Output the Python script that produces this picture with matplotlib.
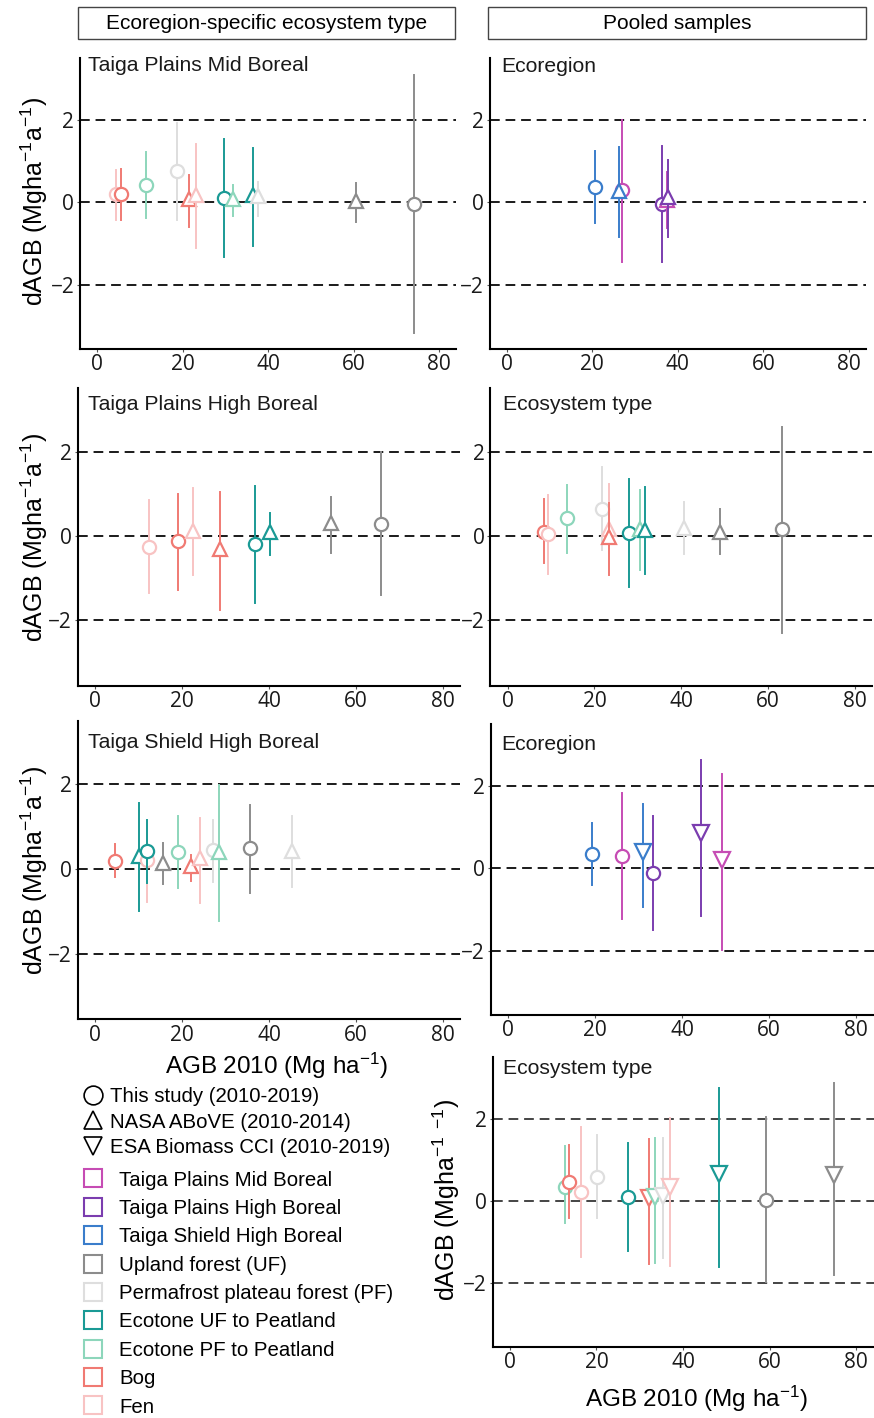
import matplotlib
matplotlib.use('Agg')
import matplotlib.pyplot as plt
from matplotlib.lines import Line2D
from matplotlib.patches import Rectangle

plt.rcParams['font.family'] = ['Liberation Sans', 'DejaVu Sans']
plt.rcParams['mathtext.default'] = 'regular'

# ---------------------------------------------------------------------------
# data
# cat keys: Mid/High/Shield = ecoregions, UF, PF, EUF, EPF, Bog, Fen = ecosystem types
# src keys: this = This study, nasa = NASA ABoVE, esa = ESA Biomass CCI
# ---------------------------------------------------------------------------
# Taiga Plains Mid Boreal
mid_cat = ['Fen', 'Bog', 'EPF', 'PF', 'Bog', 'Fen', 'EUF', 'EPF', 'EUF', 'PF', 'UF', 'UF']
mid_src = ['this', 'this', 'this', 'this', 'nasa', 'nasa', 'this', 'nasa', 'nasa', 'nasa', 'nasa', 'this']
mid_x = [4.5, 5.5, 11.4, 18.6, 21.5, 23.2, 29.6, 31.7, 36.6, 37.7, 60.6, 74.1]
mid_y = [0.20, 0.20, 0.42, 0.77, 0.07, 0.18, 0.11, 0.07, 0.18, 0.14, 0.03, -0.04]
mid_lo = [-0.42, -0.43, -0.39, -0.43, -0.59, -1.12, -1.32, -0.33, -1.07, -0.33, -0.47, -3.18]
mid_hi = [0.78, 0.80, 1.23, 1.92, 0.66, 1.41, 1.53, 0.42, 1.31, 0.48, 0.46, 3.09]

# Pooled by ecoregion (This study vs NASA ABoVE)
ecoA_cat = ['Shield', 'Mid', 'Shield', 'High', 'Mid', 'High']
ecoA_src = ['this', 'this', 'nasa', 'this', 'nasa', 'nasa']
ecoA_x = [20.7, 27.0, 26.3, 36.2, 37.5, 37.8]
ecoA_y = [0.36, 0.30, 0.28, -0.04, 0.05, 0.12]
ecoA_lo = [-0.51, -1.44, -0.83, -1.44, -0.63, -0.83]
ecoA_hi = [1.24, 2.00, 1.35, 1.37, 0.74, 1.03]

# Taiga Plains High Boreal
high_cat = ['Fen', 'Bog', 'Fen', 'Bog', 'EUF', 'EUF', 'UF', 'UF']
high_src = ['this', 'this', 'nasa', 'nasa', 'this', 'nasa', 'nasa', 'this']
high_x = [12.4, 19.0, 22.6, 28.7, 36.8, 40.2, 54.2, 65.7]
high_y = [-0.25, -0.13, 0.13, -0.32, -0.19, 0.10, 0.32, 0.28]
high_lo = [-1.36, -1.28, -0.92, -1.75, -1.58, -0.45, -0.40, -1.40]
high_hi = [0.85, 1.00, 1.13, 1.05, 1.19, 0.54, 0.93, 2.00]

# Pooled by ecosystem type (This study vs NASA ABoVE)
typA_cat = ['Bog', 'Fen', 'EPF', 'PF', 'Fen', 'Bog', 'EUF', 'EPF', 'EUF', 'PF', 'UF', 'UF']
typA_src = ['this', 'this', 'this', 'this', 'nasa', 'nasa', 'this', 'nasa', 'nasa', 'nasa', 'nasa', 'this']
typA_x = [8.4, 9.4, 13.7, 21.8, 23.3, 23.3, 27.9, 30.6, 31.7, 40.6, 48.8, 63.3]
typA_y = [0.10, 0.05, 0.42, 0.63, 0.16, -0.03, 0.06, 0.16, 0.14, 0.20, 0.10, 0.16]
typA_lo = [-0.65, -0.89, -0.41, -0.33, -0.40, -0.92, -1.22, -0.81, -0.90, -0.43, -0.43, -2.29]
typA_hi = [0.87, 0.97, 1.21, 1.64, 1.23, 0.79, 1.35, 1.09, 1.17, 0.81, 0.63, 2.59]

# Taiga Shield High Boreal
shd_cat = ['Bog', 'EUF', 'Fen', 'EUF', 'UF', 'EPF', 'Bog', 'Fen', 'PF', 'EPF', 'UF', 'PF']
shd_src = ['this', 'nasa', 'this', 'this', 'nasa', 'this', 'nasa', 'nasa', 'this', 'nasa', 'this', 'nasa']
shd_x = [4.7, 10.2, 11.9, 12.0, 15.6, 19.0, 22.0, 24.2, 27.2, 28.4, 35.6, 45.3]
shd_y = [0.20, 0.31, 0.21, 0.43, 0.15, 0.41, 0.06, 0.25, 0.45, 0.39, 0.49, 0.43]
shd_lo = [-0.20, -1.00, -0.77, -0.34, -0.35, -0.46, -0.28, -0.80, -0.30, -1.24, -0.56, -0.42]
shd_hi = [0.58, 1.55, 0.90, 1.16, 0.62, 1.25, 0.33, 1.20, 1.16, 1.98, 1.51, 1.24]

# Pooled by ecoregion (This study vs ESA CCI)
ecoB_cat = ['Shield', 'Mid', 'Shield', 'High', 'High', 'Mid']
ecoB_src = ['this', 'this', 'esa', 'this', 'esa', 'esa']
ecoB_x = [19.4, 26.3, 31.1, 33.4, 44.4, 49.1]
ecoB_y = [0.35, 0.30, 0.40, -0.12, 0.85, 0.19]
ecoB_lo = [-0.40, -1.24, -0.93, -1.51, -1.16, -1.98]
ecoB_hi = [1.11, 1.82, 1.56, 1.28, 2.63, 2.28]

# Pooled by ecosystem type (This study vs ESA CCI)
typB_cat = ['EPF', 'Bog', 'Fen', 'PF', 'EUF', 'Bog', 'EPF', 'PF', 'Fen', 'EUF', 'UF', 'UF']
typB_src = ['this', 'this', 'this', 'this', 'this', 'esa', 'esa', 'esa', 'esa', 'esa', 'this', 'esa']
typB_x = [12.8, 13.6, 16.5, 20.2, 27.2, 32.1, 33.6, 35.3, 37.0, 48.3, 59.1, 74.8]
typB_y = [0.35, 0.47, 0.23, 0.59, 0.11, 0.08, 0.11, 0.12, 0.35, 0.67, 0.02, 0.63]
typB_lo = [-0.54, -0.42, -1.36, -0.42, -1.21, -1.54, -1.50, -1.40, -1.59, -1.60, -1.97, -1.80]
typB_hi = [1.33, 1.37, 1.80, 1.61, 1.41, 1.51, 1.53, 1.53, 2.02, 2.75, 2.06, 2.87]

cat_names = {
    'Mid': 'Taiga Plains Mid Boreal',
    'High': 'Taiga Plains High Boreal',
    'Shield': 'Taiga Shield High Boreal',
    'UF': 'Upland forest (UF)',
    'PF': 'Permafrost plateau forest (PF)',
    'EUF': 'Ecotone UF to Peatland',
    'EPF': 'Ecotone PF to Peatland',
    'Bog': 'Bog',
    'Fen': 'Fen',
}
src_names = {
    'this': 'This study (2010-2019)',
    'nasa': 'NASA ABoVE (2010-2014)',
    'esa': 'ESA Biomass CCI (2010-2019)',
}

# ---------------------------------------------------------------------------
# styles
# ---------------------------------------------------------------------------
colors = {
    'Mid': '#C64CB4',
    'High': '#7B3DAF',
    'Shield': '#3A7DCB',
    'UF': '#8C8C8C',
    'PF': '#DEDEDE',
    'EUF': '#1A9A95',
    'EPF': '#8DD6BB',
    'Bog': '#F07A73',
    'Fen': '#F8C3C3',
}
markers = {'this': 'o', 'nasa': '^', 'esa': 'v'}
msizes = {'this': 9.5, 'nasa': 9.5, 'esa': 12}

W, H = 874, 1418
fig = plt.figure(figsize=(W / 100, H / 100), dpi=100)


def add_panel(box, title, title_xy, cat, src, x, y, lo, hi, dash_col='#1a1a1a'):
    left, top, right, bottom = box
    ax = fig.add_axes([left / W, 1 - bottom / H, (right - left) / W, (bottom - top) / H])
    for v in (-2, 0, 2):
        ax.axhline(v, color=dash_col, lw=1.4, ls=(0, (5, 3)), zorder=1)
    for i in range(len(x)):
        c = colors[cat[i]]
        ax.plot([x[i], x[i]], [lo[i], hi[i]], color=c, lw=1.4, zorder=2 + i)
        ax.plot(x[i], y[i], marker=markers[src[i]], ms=msizes[src[i]], mfc='white',
                mec=c, mew=1.6, ls='none', zorder=2 + i)
    ax.set_xlim(-4, 84)
    ax.set_ylim(-3.55, 3.5)
    ax.set_xticks([0, 20, 40, 60, 80])
    ax.set_yticks([-2, 0, 2])
    for s in ('top', 'right'):
        ax.spines[s].set_visible(False)
    for s in ('left', 'bottom'):
        ax.spines[s].set_linewidth(1.5)
    ax.tick_params(length=2, width=0.8, color='#555555', labelsize=15, pad=2,
                   labelcolor='#1a1a1a')
    for lab in ax.get_xticklabels() + ax.get_yticklabels():
        lab.set_family(['Open Sans', 'DejaVu Sans'])
    fig.text(title_xy[0] / W, 1 - title_xy[1] / H, title, fontsize=15.2,
             va='baseline', ha='left', color='#1a1a1a')
    return ax


add_panel((79.9, 57.9, 456.1, 348.7), 'Taiga Plains Mid Boreal', (88, 71),
          mid_cat, mid_src, mid_x, mid_y, mid_lo, mid_hi)
add_panel((489.6, 57.9, 866.2, 348.7), 'Ecoregion', (501.7, 72),
          ecoA_cat, ecoA_src, ecoA_x, ecoA_y, ecoA_lo, ecoA_hi)
add_panel((77.6, 388.4, 460.4, 685.7), 'Taiga Plains High Boreal', (88, 410),
          high_cat, high_src, high_x, high_y, high_lo, high_hi)
add_panel((490.3, 388.4, 872.3, 685.7), 'Ecosystem type', (503, 410),
          typA_cat, typA_src, typA_x, typA_y, typA_lo, typA_hi)
add_panel((77.6, 720.8, 460.4, 1019.3), 'Taiga Shield High Boreal', (88, 748),
          shd_cat, shd_src, shd_x, shd_y, shd_lo, shd_hi)
add_panel((490.5, 724.2, 873.5, 1014.5), 'Ecoregion', (501.7, 750),
          ecoB_cat, ecoB_src, ecoB_x, ecoB_y, ecoB_lo, ecoB_hi)
add_panel((492.5, 1057.5, 873.5, 1346.6), 'Ecosystem type', (503, 1074),
          typB_cat, typB_src, typB_x, typB_y, typB_lo, typB_hi, dash_col='#444444')

# axis labels
ylab = r'dAGB (Mgha$^{-1}$a$^{-1}$)'
for yc in (201, 537, 870):
    fig.text(34 / W, 1 - yc / H, ylab, rotation=90, fontsize=18, ha='center', va='center')
fig.text(446 / W, 1 - 1200 / H, r'dAGB (Mgha$^{-1}$ $^{-1}$)', rotation=90, fontsize=18,
         ha='center', va='center')
xlab = r'AGB 2010 (Mg ha$^{-1}$)'
fig.text(276 / W, 1 - 1066 / H, xlab, fontsize=17.5, ha='center', va='center')
fig.text(696 / W, 1 - 1399 / H, xlab, fontsize=17.5, ha='center', va='center')

# header boxes
for (x0, x1, txt) in ((78, 455, 'Ecoregion-specific ecosystem type'),
                      (488, 866, 'Pooled samples')):
    fig.add_artist(Rectangle((x0 / W, 1 - 39 / H), (x1 - x0) / W, 32 / H,
                             transform=fig.transFigure, fill=False, ec='#444444', lw=1))
    fig.text((x0 + x1) / 2 / W, 1 - 23.5 / H, txt, fontsize=15, ha='center', va='center')

# legends
src_handles = [Line2D([], [], marker=markers[k], ls='none', ms=13.5, mfc='none', mec='black',
                      mew=1.2) for k in ('this', 'nasa', 'esa')]
leg1 = fig.legend(src_handles, [src_names[k] for k in ('this', 'nasa', 'esa')],
                  loc='upper left', bbox_to_anchor=(82.8 / W, 1 - 1087.5 / H), frameon=False,
                  fontsize=14.7, handlelength=1.0, handletextpad=0.33, labelspacing=0.3,
                  borderpad=0, borderaxespad=0)
cat_order = ['Mid', 'High', 'Shield', 'UF', 'PF', 'EUF', 'EPF', 'Bog', 'Fen']
cat_handles = [Line2D([], [], marker='s', ls='none', ms=13.5, mfc='white', mec=colors[k],
                      mew=1.5) for k in cat_order]
leg2 = fig.legend(cat_handles, [cat_names[k] for k in cat_order],
                  loc='upper left', bbox_to_anchor=(82.8 / W, 1 - 1170.5 / H), frameon=False,
                  fontsize=14.7, handlelength=1.0, handletextpad=0.77, labelspacing=0.46,
                  borderpad=0, borderaxespad=0)

fig.savefig('out.png', dpi=100)
